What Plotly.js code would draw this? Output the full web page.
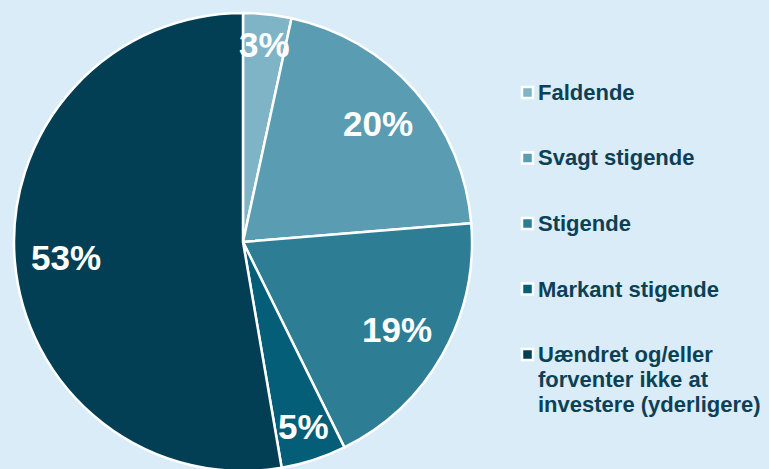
<!DOCTYPE html>
<html><head><meta charset="utf-8">
<script src="https://cdn.plot.ly/plotly-3.0.1.min.js"></script>
<style>html,body{margin:0;padding:0;overflow:hidden;background:#d9ecf8}</style>
</head><body><div id="chart" style="width:769px;height:480px"></div>
<script>
const labels = ['Faldende', 'Svagt stigende', 'Stigende', 'Markant stigende', 'Uændret og/eller<br>forventer ikke at<br>investere (yderligere)'];
const values = [3.4, 20.3, 19.0, 4.6, 52.7];
const colors = ['#7fb3c6', '#5a9db3', '#2d7e94', '#055e78', '#023f54'];

const W = 769, H = 480;
const cx = 243, cy = 242, R = 229;
const bg = '#d9ecf8';
const textColor = '#0c4055';
const fontFam = 'Liberation Sans, Arial, sans-serif';

const annotations = [];
const shapes = [];

// percentage labels placed inside slice ends
const total = values.reduce((a, b) => a + b, 0);
let cum = 0;
const fs = 35, pad = 15;
values.forEach((v, i) => {
  const mid = 2 * Math.PI * (cum + v / 2) / total;
  cum += v;
  const txt = Math.round(100 * v / total) + '%';
  const digits = txt.length - 1;
  const halfW = (digits * 0.556 + 0.889) * fs / 2, halfH = 0.716 * fs / 2;
  const s = Math.sin(mid), c = Math.cos(mid);
  const r = R - pad - (Math.abs(s) * halfW + Math.abs(c) * halfH);
  const px = cx + r * s, py = cy - r * c;
  annotations.push({
    x: px / W, y: 1 - py / H, xref: 'paper', yref: 'paper',
    text: '<b>' + txt + '</b>', showarrow: false, xanchor: 'center', yanchor: 'middle',
    borderpad: 0,
    font: { family: fontFam, size: fs, color: '#ffffff' }
  });
});

// legend
const legX = 527.5, legTextX = 537, legY0 = 92.5, legStep = 65.5, lineStep = 25, legFs = 22;
labels.forEach((lab, i) => {
  const y = legY0 + legStep * i;
  shapes.push({
    type: 'rect', xref: 'paper', yref: 'paper',
    x0: (legX - 5.5) / W, x1: (legX + 5.5) / W,
    y0: 1 - (y + 5.5) / H, y1: 1 - (y - 5.5) / H,
    fillcolor: colors[i], line: { color: '#ffffff', width: 2.5 }
  });
  lab.split('<br>').forEach((line, j) => {
    annotations.push({
      x: legTextX / W, y: 1 - (y + j * lineStep) / H, xref: 'paper', yref: 'paper',
      text: '<b>' + line + '</b>', showarrow: false, xanchor: 'left', yanchor: 'middle',
      borderpad: 0,
      font: { family: fontFam, size: legFs, color: textColor }
    });
  });
});

const trace = {
  type: 'pie',
  labels: labels.map(l => l.replace(/<br>/g, ' ')),
  values: values,
  sort: false,
  direction: 'clockwise',
  rotation: 0,
  textinfo: 'none',
  hoverinfo: 'label+percent',
  showlegend: false,
  marker: { colors: colors, line: { color: '#ffffff', width: 2.5 } },
  domain: { x: [(cx - R) / W, (cx + R) / W], y: [1 - (cy + R) / H, 1 - (cy - R) / H] }
};

const layout = {
  width: W, height: H,
  margin: { l: 0, r: 0, t: 0, b: 0 },
  paper_bgcolor: bg, plot_bgcolor: bg,
  showlegend: false,
  annotations: annotations,
  shapes: shapes
};

Plotly.newPlot('chart', [trace], layout, { displayModeBar: false, staticPlot: true });
</script>
</body></html>
